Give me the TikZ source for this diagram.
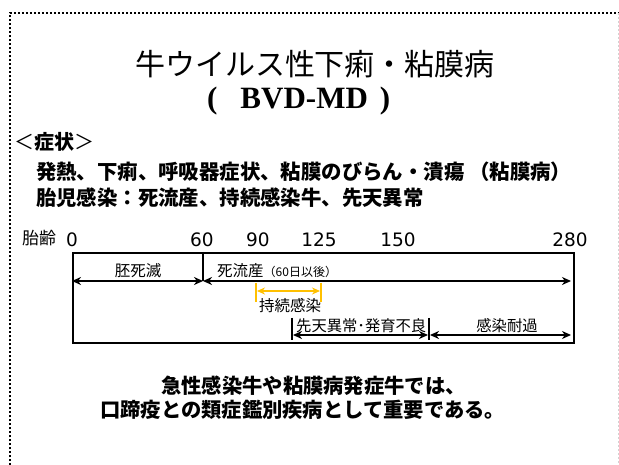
\documentclass[tikz,border=0pt]{standalone}
\usepackage{fontspec}
\setmainfont{Liberation Sans}
\newfontfamily\jp{Noto Sans CJK JP}
\newfontfamily\tms{Liberation Serif}
\newfontfamily\dvs{DejaVu Sans}
\usetikzlibrary{arrows.meta}
\definecolor{gold}{HTML}{FFC000}
\begin{document}
\begin{tikzpicture}[x=1pt,y=-1pt,
  jpt/.style={font=\jp\fontsize{#1}{#1}\selectfont, inner sep=0pt},
  jpb/.style={font=\jp\bfseries\fontsize{#1}{#1}\selectfont, inner sep=0pt},
  num/.style={font=\dvs\fontsize{18.5}{18.5}\selectfont, inner sep=0pt},
  dotline/.style={line width=2pt, dash pattern=on 2pt off 2pt},
  span/.style={{Stealth[length=9pt,width=8pt]}-{Stealth[length=9pt,width=8pt]}, line width=1.8pt},
  yspan/.style={{Stealth[length=8pt,width=7pt]}-{Stealth[length=8pt,width=7pt]}, line width=2.2pt, draw=gold},
  tick/.style={line width=1.5pt},
  ytick/.style={line width=1.5pt, draw=gold}]
\useasboundingbox (0,0) rectangle (619,465);
% border
\draw[dotline] (10,465) -- (10,13) -- (619,13);
\draw[gray!35, line width=0.6pt, dash pattern=on 2pt off 2pt] (618,13) -- (618,465);
% titles
\node[jpt=30] (title) at (315,64) {牛ウイルス性下痢・粘膜病};
\node[font=\tms\bfseries\fontsize{31}{31}\selectfont, inner sep=0pt, anchor=west] (bvd) at (207,101) {(\hspace{23pt}BVD-MD\hspace{12pt})};
\node[jpb=20, anchor=west] (symh) at (14,142) {{\mdseries ＜}症状{\mdseries ＞}};
\node[jpb=20.4, anchor=west] (sym1) at (36,172) {発熱、下痢、呼吸器症状、粘膜のびらん・潰瘍 （粘膜病）};
\node[jpb=20.4, anchor=west] (sym2) at (36,198) {胎児感染：死流産、持続感染牛、先天異常};
% timeline
\node[jpt=17, anchor=west] (age) at (22,238) {胎齢};
\node[num] (n0) at (72,240) {0};
\node[num] (n60) at (202,240) {60};
\node[num] (n90) at (258,240) {90};
\node[num] (n125) at (319,240) {125};
\node[num] (n150) at (398,240) {150};
\node[num] (n280) at (570,240) {280};
\node[draw, line width=1.8pt, minimum width=501pt, minimum height=90pt, inner sep=0pt, anchor=north west] (box) at (72,252) {};
\coordinate (a0) at (72,281);
\coordinate (a60) at (203,281);
\coordinate (aend) at (571,281);
\coordinate (t60) at (203,252);
\draw[line width=1.5pt] (t60) -- (a60);
\draw[span] (a0) -- (a60);
\draw[span] (a60) -- (aend);
\node[jpt=15.5] (emb) at (138,271) {胚死滅};
\node[jpt=15.5, anchor=west] (abort) at (217,271) {死流産{\fontsize{12}{12}\selectfont （60日以後）}};
% persistent infection
\coordinate (y1t) at (256,283);
\coordinate (y1b) at (256,302);
\coordinate (y2t) at (321,283);
\coordinate (y2b) at (321,302);
\coordinate (y1) at (257,291);
\coordinate (y2) at (320,291);
\draw[ytick] (y1t) -- (y1b);
\draw[ytick] (y2t) -- (y2b);
\draw[yspan] (y1) -- (y2);
\node[jpt=15.5] (pi) at (290,306) {持続感染};
% bottom spans
\coordinate (b1t) at (292,318);
\coordinate (b1b) at (292,340);
\coordinate (b2t) at (429,318);
\coordinate (b2b) at (429,340);
\coordinate (c1) at (293,335);
\coordinate (c2) at (428,335);
\coordinate (c3) at (430,335);
\coordinate (c4) at (571,335);
\draw[tick] (b1t) -- (b1b);
\draw[tick] (b2t) -- (b2b);
\draw[span] (c1) -- (c2);
\draw[span] (c3) -- (c4);
\node[jpt=15.3, anchor=west] (cong) at (296,326) {先天異常･発育不良};
\node[jpt=15.3] (surv) at (507,326) {感染耐過};
% conclusion
\node[jpb=20.3, anchor=west] (con1) at (161,386) {急性感染牛や粘膜病発症牛では、};
\node[jpb=20.3, anchor=west] (con2) at (100,410) {口蹄疫との類症鑑別疾病として重要である。};
\end{tikzpicture}
\end{document}
